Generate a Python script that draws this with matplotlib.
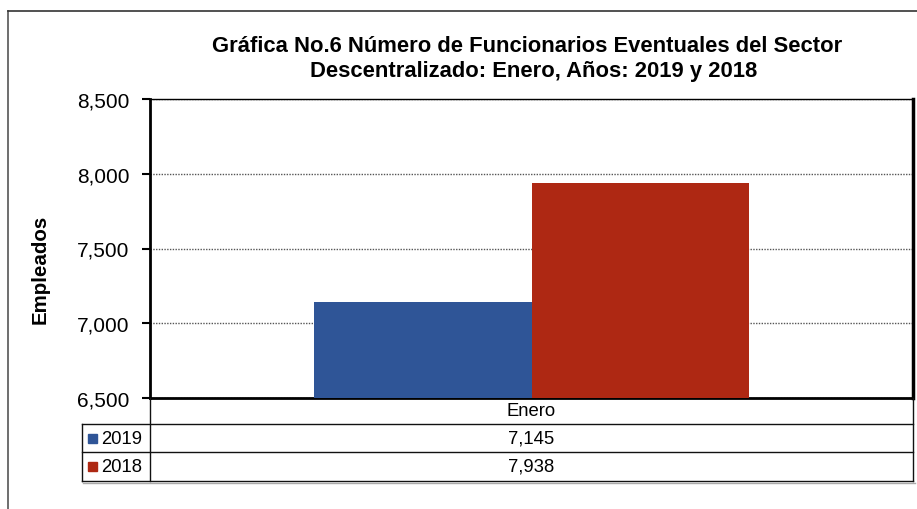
import matplotlib.pyplot as plt
from matplotlib.lines import Line2D
from matplotlib.patches import Rectangle

plt.rcParams['font.family'] = ['Liberation Sans', 'DejaVu Sans']

categories = ["Enero"]
series = ["2019", "2018"]
values_2019 = [7145]
values_2018 = [7938]
colors = ["#2F5597", "#AE2813"]
yticks = [6500, 7000, 7500, 8000, 8500]

W, H = 917, 510
fig = plt.figure(figsize=(W / 100, H / 100), dpi=100)

def fx(px): return px / W
def fy(py): return 1 - py / H

# outer chart border
fig.add_artist(Line2D([fx(8), fx(8)], [fy(12), 0], color="#555555", lw=1.2))
fig.add_artist(Line2D([fx(8), 1], [fy(12), fy(12)], color="#333333", lw=1.2))

L, R, T, B = 150, 913, 100, 399
ax = fig.add_axes([fx(L), fy(B), fx(R - L), fy(T) - fy(B)])

bw = 0.2857
ax.bar([-bw / 2], values_2019, width=bw, color=colors[0], zorder=3)
ax.bar([bw / 2], values_2018, width=bw, color=colors[1], zorder=3)
ax.set_xlim(-0.5, 0.5)
ax.set_ylim(6500, 8500)
ax.set_yticks(yticks)
ax.set_yticklabels([f"{v:,}" for v in yticks], fontsize=15)
ax.set_xticks([])
ax.tick_params(axis="y", direction="out", length=6, width=1.5, pad=9)
ax.yaxis.grid(True, linestyle=(0, (1, 1)), color="#555555", lw=1)
ax.spines["top"].set_linewidth(1)
ax.spines["left"].set_linewidth(2)
ax.spines["bottom"].set_linewidth(2)
ax.spines["right"].set_linewidth(2.5)

fig.text(fx(40), fy(269), "Empleados", rotation=90, ha="center", va="center",
         fontsize=14.8, fontweight="bold")

fig.text(fx(527), fy(47), "Gráfica No.6 Número de Funcionarios Eventuales del Sector",
         ha="center", va="center", fontsize=15.8, fontweight="bold")
fig.text(fx(534), fy(72), "Descentralizado: Enero, Años: 2019 y 2018",
         ha="center", va="center", fontsize=15.8, fontweight="bold")

# data table below the plot
rows_y = [399, 425, 453, 482]
TL = 82
lc = "#111111"
fig.add_artist(Line2D([fx(L), fx(L)], [fy(399), fy(482)], color=lc, lw=1))
fig.add_artist(Line2D([fx(R), fx(R)], [fy(399), fy(482)], color=lc, lw=1))
fig.add_artist(Line2D([fx(TL), fx(TL)], [fy(425), fy(482)], color=lc, lw=1))
fig.add_artist(Line2D([fx(TL), fx(R)], [fy(425), fy(425)], color=lc, lw=1))
fig.add_artist(Line2D([fx(TL), fx(R)], [fy(453), fy(453)], color=lc, lw=1))
fig.add_artist(Line2D([fx(TL), fx(R)], [fy(482), fy(482)], color=lc, lw=1))
fig.add_artist(Line2D([fx(TL + 1), fx(R + 2)], [fy(484), fy(484)], color="#aaaaaa", lw=1))

cx = (L + R) / 2
fig.text(fx(cx), fy(412), categories[0], ha="center", va="center", fontsize=13.3)
table_vals = [values_2019, values_2018]
for i, (name, vals) in enumerate(zip(series, table_vals)):
    yc = (rows_y[i + 1] + rows_y[i + 2]) / 2
    fig.add_artist(Rectangle((fx(88), fy(yc + 4.5)), fx(9), fy(yc - 4.5) - fy(yc + 4.5),
                             color=colors[i], transform=fig.transFigure))
    fig.text(fx(101), fy(yc), name, ha="left", va="center", fontsize=13.3)
    fig.text(fx(cx), fy(yc), f"{vals[0]:,}", ha="center", va="center", fontsize=13.3)

fig.savefig("out.png", dpi=100)
